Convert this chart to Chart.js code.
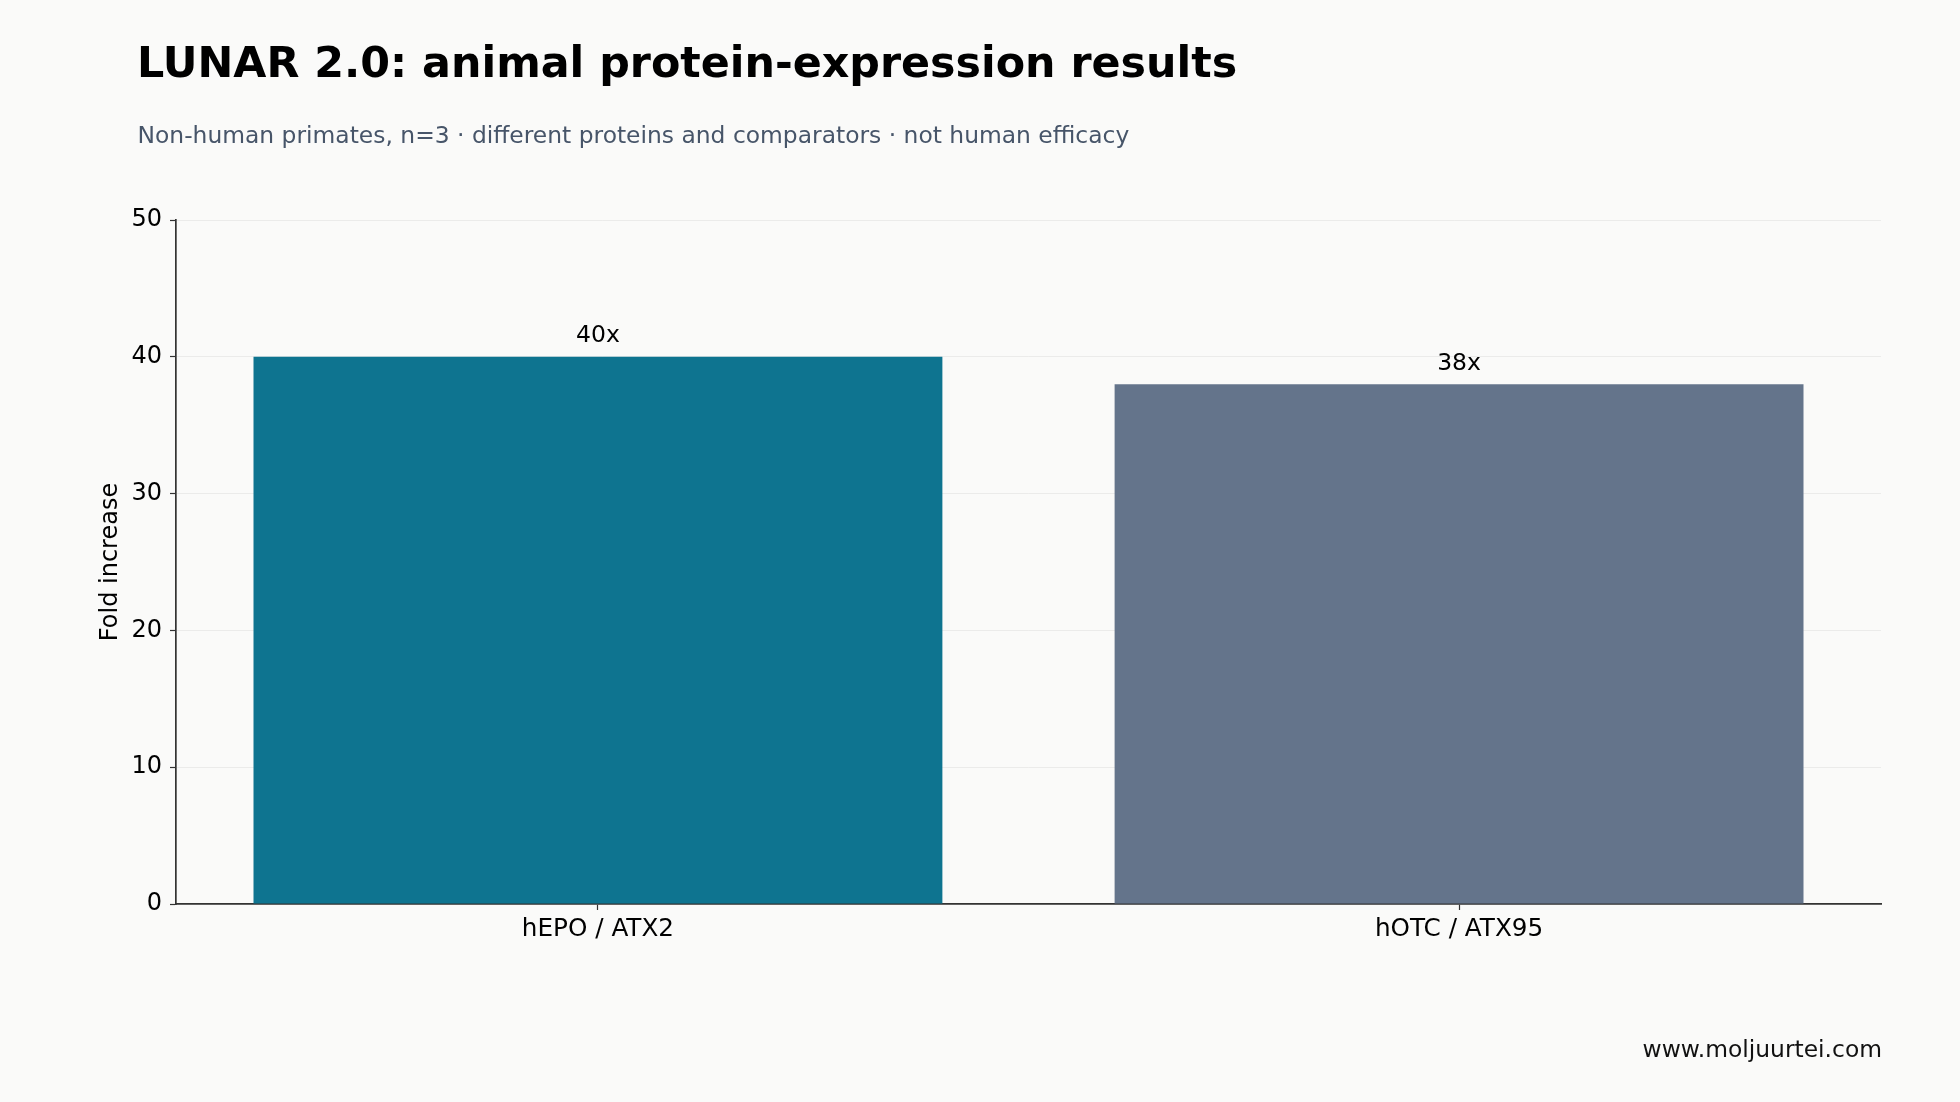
<!DOCTYPE html>
<html>
<head>
<meta charset="utf-8">
<script src="https://cdn.jsdelivr.net/npm/chart.js@4.4.1/dist/chart.umd.min.js"></script>
<style>
  html, body { margin: 0; padding: 0; background: #fafaf9; }
  #wrap { position: relative; width: 1960px; height: 1102px; background: #fafaf9; overflow: hidden; font-family: 'DejaVu Sans', sans-serif; }
  #c { position: absolute; left: 0; top: 0; }
  .txt { position: absolute; white-space: nowrap; line-height: 1; }
  #title { left: 137px; top: 41.1px; font-size: 42.8px; font-weight: bold; color: #000; }
  #subtitle { left: 137.5px; top: 124px; font-size: 23.4px; color: #475569; }
  #footer { right: 78px; top: 1037.5px; font-size: 23.4px; color: #111; }
</style>
</head>
<body>
<div id="wrap">
  <canvas id="c" width="1960" height="1102"></canvas>
  <div class="txt" id="title">LUNAR 2.0: animal protein-expression results</div>
  <div class="txt" id="subtitle">Non-human primates, n=3 · different proteins and comparators · not human efficacy</div>
  <div class="txt" id="footer">www.moljuurtei.com</div>
</div>
<script>
const categories = ["hEPO / ATX2", "hOTC / ATX95"];
const foldValues = [40, 38];
const valueLabels = ["40x", "38x"];
const barColors = ["#0e7490", "#64748b"];
const yTicks = [0, 10, 20, 30, 40, 50];

const FONT = "'DejaVu Sans', sans-serif";

const barLabelPlugin = {
  id: 'barLabels',
  afterDatasetsDraw(chart) {
    const ctx = chart.ctx;
    const meta = chart.getDatasetMeta(0);
    ctx.save();
    ctx.font = "23.5px " + FONT;
    ctx.fillStyle = "#000";
    ctx.textAlign = "center";
    ctx.textBaseline = "alphabetic";
    meta.data.forEach((bar, i) => {
      ctx.fillText(valueLabels[i], bar.x, bar.y - 14.5);
    });
    ctx.restore();
  }
};

new Chart(document.getElementById('c'), {
  type: 'bar',
  data: {
    datasets: [{
      data: categories.map((c, i) => ({ x: i, y: foldValues[i] })),
      backgroundColor: barColors,
      borderWidth: 0,
      categoryPercentage: 0.8,
      barPercentage: 1.0
    }]
  },
  options: {
    responsive: false,
    animation: false,
    devicePixelRatio: 1,
    layout: { padding: { left: 96, right: 79, top: 220, bottom: 138 } },
    plugins: {
      legend: { display: false },
      tooltip: { enabled: false },
      title: { display: false }
    },
    scales: {
      x: {
        type: 'linear',
        offset: false,
        min: -0.49,
        max: 1.49,
        afterBuildTicks(scale) { scale.ticks = categories.map((c, i) => ({ value: i })); },
        afterFit(scale) { scale.height = 60; },
        ticks: {
          callback: (v) => categories[v],
          font: { family: FONT, size: 24.7 },
          color: '#000',
          padding: 5,
          maxRotation: 0,
          autoSkip: false
        },
        grid: {
          offset: false,
          drawOnChartArea: false,
          drawTicks: true,
          tickLength: 6,
          tickColor: '#333',
          tickWidth: 1.2
        },
        border: { display: true, color: '#333', width: 1.7 }
      },
      y: {
        min: 0,
        max: 50,
        afterBuildTicks(scale) { scale.ticks = yTicks.map(v => ({ value: v })); },
        afterFit(scale) { scale.width = 80; },
        ticks: {
          font: { family: FONT, size: 24 },
          color: '#000',
          padding: 8
        },
        grid: {
          color: 'rgba(0,0,0,0.06)',
          lineWidth: 1,
          drawTicks: true,
          tickLength: 6,
          tickColor: '#333',
          tickWidth: 1.2
        },
        border: { display: true, color: '#333', width: 1.7 },
        title: {
          display: true,
          text: 'Fold increase',
          font: { family: FONT, size: 24 },
          color: '#000',
          padding: { top: 0, bottom: 0 }
        }
      }
    }
  },
  plugins: [barLabelPlugin]
});
</script>
</body>
</html>
